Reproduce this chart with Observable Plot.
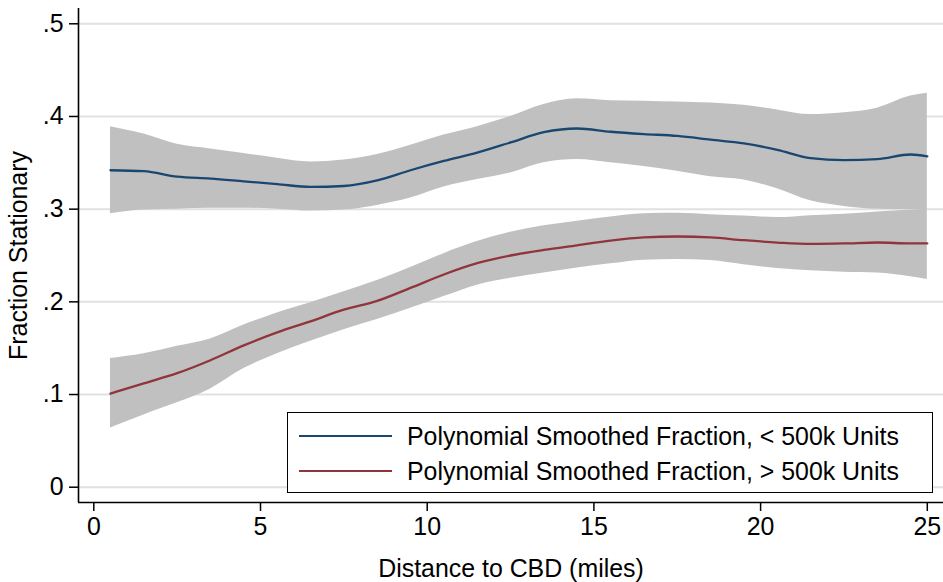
<!DOCTYPE html>
<html>
<head>
<meta charset="utf-8">
<script src="https://cdn.jsdelivr.net/npm/d3@7"></script>
<script src="https://cdn.jsdelivr.net/npm/@observablehq/plot@0.6"></script>
<style>
  html, body { margin: 0; padding: 0; background: white; }
  #wrap { position: relative; width: 943px; height: 582px; font-family: "Liberation Sans", Arial, sans-serif; }
  #legend { position: absolute; left: 287px; top: 412px; width: 644px; height: 79px; border: 1.5px solid black; background: white; font-size: 24.9px; color: black; }
  .row { position: absolute; left: 0; height: 30px; }
  .sw { position: absolute; left: 11px; width: 93px; height: 2.4px; }
  .lbl { position: absolute; left: 119px; white-space: nowrap; line-height: 30px; top: 0; }
</style>
</head>
<body>
<div id="wrap">
  <div id="chart"></div>
  <div id="legend">
    <div class="row" style="top:8px"><div class="sw" style="top:14px;background:#1a476f"></div><div class="lbl">Polynomial Smoothed Fraction, &lt; 500k Units</div></div>
    <div class="row" style="top:43px"><div class="sw" style="top:14px;background:#90353b"></div><div class="lbl">Polynomial Smoothed Fraction, &gt; 500k Units</div></div>
  </div>
</div>
<script>
// Distance to CBD (miles)
const distance = [0.5, 1.5, 2.5, 3.5, 4.5, 5.5, 6.5, 7.5, 8.5, 9.5, 10.5, 11.5, 12.5, 13.5, 14.5, 15.5, 16.5, 17.5, 18.5, 19.5, 20.5, 21.5, 22.5, 23.5, 24.5, 25];

// < 500k Units: smoothed fraction and confidence band
const smallFit = [0.342, 0.341, 0.335, 0.333, 0.330, 0.327, 0.324, 0.325, 0.331, 0.342, 0.352, 0.361, 0.372, 0.383, 0.387, 0.3835, 0.381, 0.379, 0.375, 0.371, 0.364, 0.355, 0.353, 0.354, 0.359, 0.357];
const smallHi  = [0.389, 0.381, 0.370, 0.365, 0.360, 0.355, 0.351, 0.353, 0.359, 0.369, 0.380, 0.389, 0.400, 0.413, 0.419, 0.417, 0.4165, 0.4155, 0.4145, 0.412, 0.407, 0.402, 0.404, 0.409, 0.422, 0.425];
const smallLo  = [0.295, 0.299, 0.300, 0.301, 0.301, 0.300, 0.298, 0.299, 0.304, 0.312, 0.324, 0.332, 0.339, 0.350, 0.3535, 0.350, 0.346, 0.341, 0.335, 0.3315, 0.322, 0.309, 0.303, 0.300, 0.2995, 0.299];

// > 500k Units: smoothed fraction and confidence band
const largeFit = [0.101, 0.112, 0.123, 0.137, 0.153, 0.167, 0.179, 0.1915, 0.201, 0.215, 0.2295, 0.2417, 0.250, 0.256, 0.261, 0.266, 0.2695, 0.2705, 0.2695, 0.2665, 0.264, 0.2625, 0.263, 0.264, 0.263, 0.263];
const largeHi  = [0.139, 0.144, 0.152, 0.160, 0.175, 0.188, 0.199, 0.211, 0.223, 0.237, 0.252, 0.265, 0.275, 0.282, 0.287, 0.2915, 0.295, 0.2955, 0.294, 0.2925, 0.291, 0.293, 0.2945, 0.297, 0.299, 0.300];
const largeLo  = [0.064, 0.078, 0.091, 0.106, 0.128, 0.144, 0.1575, 0.170, 0.181, 0.193, 0.2057, 0.218, 0.2255, 0.231, 0.2365, 0.241, 0.245, 0.2458, 0.2445, 0.240, 0.236, 0.2335, 0.232, 0.231, 0.227, 0.224];

const xTicks = [0, 5, 10, 15, 20, 25];
const yTicks = [0, 0.1, 0.2, 0.3, 0.4, 0.5];
const xDomain = [-0.459, 25.486];
const yDomain = [-0.0165, 0.5165];

const rows = distance.map((d, i) => ({
  x: d,
  sFit: smallFit[i], sHi: smallHi[i], sLo: smallLo[i],
  lFit: largeFit[i], lHi: largeHi[i], lLo: largeLo[i]
}));

const fmt = d => d === 0 ? "0" : String(+d.toFixed(1)).replace(/^0/, "");
const curve = "monotone-x";
const fs = 24.9;

const chart = Plot.plot({
  width: 943,
  height: 582,
  marginLeft: 78,
  marginRight: 0,
  marginTop: 8,
  marginBottom: 80,
  style: { fontFamily: "'Liberation Sans', Arial, sans-serif", fontSize: fs + "px", background: "white", color: "black" },
  x: { domain: xDomain },
  y: { domain: yDomain },
  marks: [
    Plot.gridY(yTicks, { stroke: "#e1e1e1", strokeOpacity: 1, strokeWidth: 2 }),
    Plot.areaY(rows, { x: "x", y1: "sLo", y2: "sHi", fill: "#c0c0c0", curve }),
    Plot.lineY(rows, { x: "x", y: "sFit", stroke: "#1a476f", strokeWidth: 2.3, curve }),
    Plot.areaY(rows, { x: "x", y1: "lLo", y2: "lHi", fill: "#c0c0c0", curve }),
    Plot.lineY(rows, { x: "x", y: "lFit", stroke: "#90353b", strokeWidth: 2.3, curve }),
    Plot.ruleX([xDomain[0]], { stroke: "black", strokeWidth: 1.6 }),
    Plot.ruleY([yDomain[0]], { stroke: "black", strokeWidth: 1.6 }),
    Plot.axisY(yTicks, { tickFormat: fmt, tickSize: 9, tickPadding: 6, strokeWidth: 1.5, fontSize: fs, label: null }),
    Plot.axisX(xTicks, { tickFormat: d => String(d), tickSize: 9, tickPadding: 6, strokeWidth: 1.5, fontSize: fs, label: null }),
    Plot.text(["Fraction Stationary"], { text: d => d, frameAnchor: "left", textAnchor: "middle", lineAnchor: "middle", rotate: -90, dx: -59, fontSize: fs }),
    Plot.text(["Distance to CBD (miles)"], { text: d => d, frameAnchor: "bottom", textAnchor: "middle", lineAnchor: "middle", dy: 67, fontSize: fs })
  ]
});
document.getElementById("chart").appendChild(chart);
</script>
</body>
</html>
